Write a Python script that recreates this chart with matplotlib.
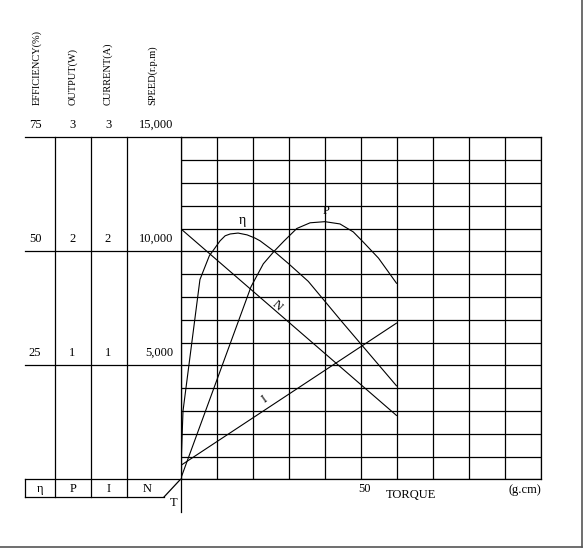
import matplotlib.pyplot as plt

# motor characteristic curves, torque in g.cm
speed_t = [0, 60]
speed_rpm = [11000, 2800]

current_t = [0, 60]
current_a = [0.12, 1.37]

eff_t = [0, 0.7, 5.4, 8, 11, 12.4, 13.8, 16, 18.5, 20.7, 22.1, 26, 30, 35.5, 45, 60]
eff_pct = [0, 15, 43.8, 49, 52.3, 53.4, 53.8, 54, 53.6, 52.9, 52.3, 50, 47.3, 43.4, 34.4, 20.5]

out_t = [0, 19.6, 23, 26, 28.75, 32.3, 36, 40.1, 44.3, 48, 50.8, 55, 60]
out_w = [0, 1.69, 1.89, 2.0, 2.09, 2.2, 2.25, 2.26, 2.24, 2.17, 2.08, 1.94, 1.72]

col_titles = ['EFFICIENCY(%)', 'OUTPUT(W)', 'CURRENT(A)', 'SPEED(r.p.m)']
eff_ticks = [25, 50, 75]
out_ticks = [1, 2, 3]
cur_ticks = [1, 2, 3]
speed_ticks = [5000, 10000, 15000]
speed_tick_labels = ['5,000', '10,000', '15,000']
box_labels = ['\u03b7', 'P', 'I', 'N']

plt.rcParams['font.family'] = ['Liberation Serif', 'DejaVu Serif']
W, H = 584, 549
fig = plt.figure(figsize=(W / 100, H / 100), dpi=100)

# overlay in pixel coords for the left table
ov = fig.add_axes([0, 0, 1, 1])
ov.set_xlim(0, W)
ov.set_ylim(H, 0)
ov.axis('off')

x0, x1 = 180.5, 540.5
y_top, y_bot = 137.3, 479.3
ax = fig.add_axes([x0 / W, (H - y_bot) / H, (x1 - x0) / W, (y_bot - y_top) / H])
ax.set_facecolor('none')
ax.set_xlim(0, 100)
ax.set_ylim(0, 15000)
ax.set_xticks(range(0, 101, 10))
ax.set_yticks(range(0, 15001, 1000))
ax.grid(True, color='black', lw=0.9)
ax.tick_params(length=0, labelleft=False, labelbottom=False)
for s in ax.spines.values():
    s.set_linewidth(0.9)

eff_ax = ax.twinx()
eff_ax.set_ylim(0, 75)
out_ax = ax.twinx()
out_ax.set_ylim(0, 3)
cur_ax = ax.twinx()
cur_ax.set_ylim(0, 3)
for a in (eff_ax, out_ax, cur_ax):
    a.axis('off')

ax.plot(speed_t, speed_rpm, color='black', lw=0.8)
cur_ax.plot(current_t, current_a, color='black', lw=0.8)
eff_ax.plot(eff_t, eff_pct, color='black', lw=0.8)
out_ax.plot(out_t, out_w, color='black', lw=0.8)

fs = 9
eff_ax.text(17.3, 55.3, '\u03b7', fontsize=10, ha='center', va='bottom')
out_ax.text(40.5, 2.3, 'P', fontsize=fs, ha='center', va='bottom')
ax.text(26.8, 7600, 'N', fontsize=fs, ha='center', va='center', rotation=-42)
cur_ax.text(23.2, 0.7, 'I', fontsize=fs, ha='center', va='center', rotation=35)

# left table lines
lk = dict(color='black', lw=0.9)
for y in (y_top, 251.3, 365.3, y_bot):
    ov.plot([25, x0], [y, y], **lk)
for x in (54.5, 90.5, 126.5):
    ov.plot([x, x], [y_top, 497], **lk)
ov.plot([25, 25], [y_bot, 497], **lk)
ov.plot([25, 164], [497, 497], **lk)
ov.plot([164, x0], [497, y_bot], **lk)
ov.plot([x0, x0], [y_bot, 512], **lk)

# image border lines
ov.plot([0, 582], [547, 547], color='#555555', lw=1.2)
ov.plot([582, 582], [0, 547], color='#555555', lw=1.2)

col_x = [37, 72.5, 108, 152]
for x, t in zip(col_x, col_titles):
    ov.text(x, 105, t, rotation=90, fontsize=7.5, ha='center', va='bottom')

cols = [(eff_ax, eff_ticks, [str(v) for v in eff_ticks], 35),
        (out_ax, out_ticks, [str(v) for v in out_ticks], 72.5),
        (cur_ax, cur_ticks, [str(v) for v in cur_ticks], 108)]
for a, vals, labs, x in cols:
    for v, lab in zip(vals, labs):
        ov.annotate(lab, xy=(x, v), xycoords=(ov.transData, a.transData),
                    xytext=(0, 4.5), textcoords='offset points',
                    fontsize=fs, ha='center', va='bottom')
for v, lab in zip(speed_ticks, speed_tick_labels):
    ov.annotate(lab, xy=(173, v), xycoords=(ov.transData, ax.transData),
                xytext=(0, 4.5), textcoords='offset points',
                fontsize=fs, ha='right', va='bottom')

for x, t in zip([40, 73, 109, 147], box_labels):
    ov.text(x, 489, t, fontsize=fs, ha='center', va='center')
ov.text(174, 503, 'T', fontsize=fs, ha='center', va='center')

ax.annotate('50', xy=(50, 0), xycoords='data', xytext=(3, -7),
            textcoords='offset points', fontsize=fs, ha='center', va='center')
ov.text(411, 495, 'TORQUE', fontsize=fs, ha='center', va='center')
ov.text(525, 490, '(g.cm)', fontsize=fs, ha='center', va='center')

fig.savefig('out.png', dpi=100)
